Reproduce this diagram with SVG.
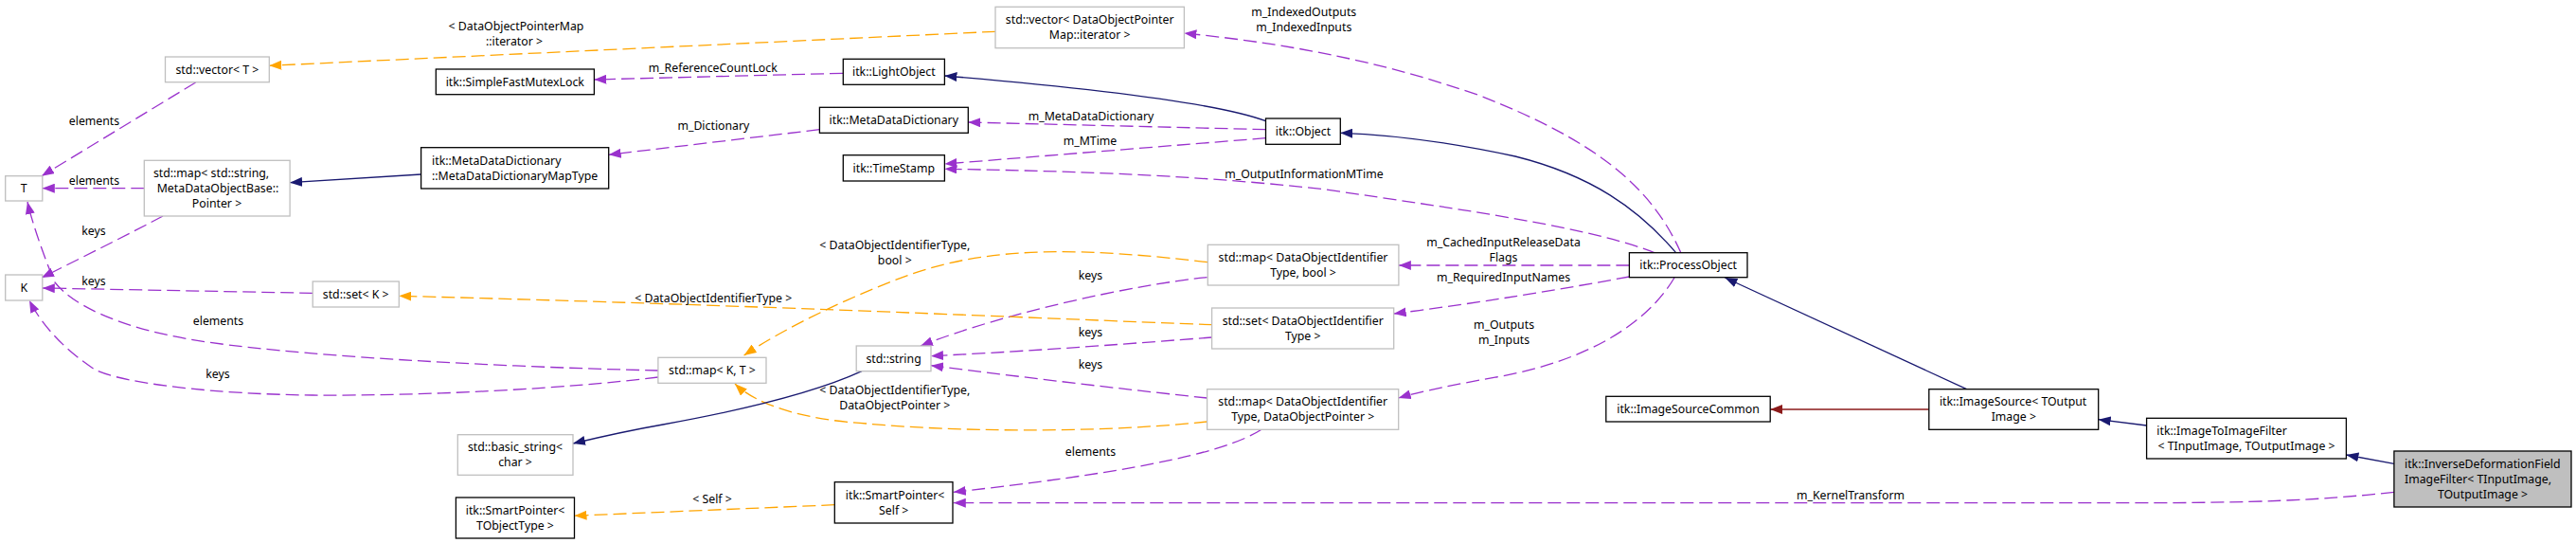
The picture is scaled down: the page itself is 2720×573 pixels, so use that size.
<svg xmlns="http://www.w3.org/2000/svg" width="2720" height="573" viewBox="0 0 2720 573">
<style>
text{font-family:"Noto Sans","DejaVu Sans",sans-serif;font-size:12.3px;fill:#000}
.c{text-anchor:middle}
.nb rect{fill:#fff;stroke:#000;stroke-width:1.3}
.ng rect{fill:#fff;stroke:#bfbfbf;stroke-width:1.3}
.nh rect{fill:#bfbfbf;stroke:#000;stroke-width:1.3}
.e{fill:none;stroke-width:1.3}
.u{stroke:#9a32cd;stroke-dasharray:14,6;marker-end:url(#mu)}
.t{stroke:#ffa500;stroke-dasharray:14,6;marker-end:url(#mt)}
.i{stroke:#191970;marker-end:url(#mi)}
.r{stroke:#8b1a1a;marker-end:url(#mr)}
</style>
<defs>
<marker id="mu" markerUnits="userSpaceOnUse" viewBox="0 0 13 10" markerWidth="13" markerHeight="10" refX="13" refY="5" orient="auto"><path d="M0,0L13,5L0,10z" fill="#9a32cd"/></marker>
<marker id="mt" markerUnits="userSpaceOnUse" viewBox="0 0 13 10" markerWidth="13" markerHeight="10" refX="13" refY="5" orient="auto"><path d="M0,0L13,5L0,10z" fill="#ffa500"/></marker>
<marker id="mi" markerUnits="userSpaceOnUse" viewBox="0 0 13 10" markerWidth="13" markerHeight="10" refX="13" refY="5" orient="auto"><path d="M0,0L13,5L0,10z" fill="#191970"/></marker>
<marker id="mr" markerUnits="userSpaceOnUse" viewBox="0 0 13 10" markerWidth="13" markerHeight="10" refX="13" refY="5" orient="auto"><path d="M0,0L13,5L0,10z" fill="#8b1a1a"/></marker>
</defs>
<rect width="2720" height="573" fill="#fff"/>
<g id="connectors">
<path class="e u" d="M890,77.3L627.4,84"/>
<path class="e u" d="M206.6,87L44,185.7"/>
<path class="e u" d="M152.3,198.7L44.8,198.7"/>
<path class="e u" d="M172,228C140,245 90,270 44,293"/>
<path class="e u" d="M330.2,309.3L44.8,304"/>
<path class="e u" d="M695,391C520,387 300,375 200,358C120,344 75,320 58,298C52,285 35,240 29,213"/>
<path class="e u" d="M695,398C600,410 450,418 330,417C230,416 130,405 100,390C70,370 45,345 31,317"/>
<path class="e u" d="M865.4,136.7L642.7,163.3"/>
<path class="e u" d="M1336.5,136.7L1022.3,129"/>
<path class="e u" d="M1336.5,145.7L997.4,173"/>
<path class="e u" d="M1748,267C1680,240 1550,222 1400,200C1250,183 1100,180 997.4,178.3"/>
<path class="e u" d="M1775,267C1745,200 1690,150 1560,100C1450,62 1350,45 1250.4,35"/>
<path class="e u" d="M1720.4,280L1476.9,280"/>
<path class="e u" d="M1720.4,292C1650,305 1560,320 1471.7,331"/>
<path class="e u" d="M1768,293C1740,340 1680,380 1580,398C1540,405 1500,413 1476.7,420"/>
<path class="e u" d="M1274.6,292.7C1200,300 1060,330 972,365"/>
<path class="e u" d="M1279.6,356C1200,362 1100,370 983,375.7"/>
<path class="e u" d="M1274.6,420C1180,410 1080,398 983,385.7"/>
<path class="e u" d="M1332,453.3C1290,480 1180,500 1006.8,519.3"/>
<path class="e u" d="M2527.9,519.3C2450,528 2380,530.7 2250,530.7L1006.8,530.7"/>
<path class="e t" d="M1051,33.3L284.3,69.3"/>
<path class="e t" d="M1279.6,342.7C1100,336 800,322 421.3,312.3"/>
<path class="e t" d="M1275.3,276.7C1150,262 1050,258 960,290C900,312 830,345 785.6,375"/>
<path class="e t" d="M1274.6,445C1150,458 1000,455 915,447C850,443 800,428 776,405"/>
<path class="e t" d="M881.3,532.7L606.5,544.3"/>
<path class="e i" d="M444.6,184L306.1,192.7"/>
<path class="e i" d="M1336.5,127.7C1300,114 1200,97 997.4,80"/>
<path class="e i" d="M1769.6,266.7C1730,220 1680,185 1600,165C1530,150 1470,142 1415.3,140.3"/>
<path class="e i" d="M910,391.7C870,410 800,430 700,448C660,455 630,462 605,468"/>
<path class="e i" d="M2076.6,410.7L1821.4,293"/>
<path class="e i" d="M2266.6,449L2215.7,442.7"/>
<path class="e i" d="M2527.9,489.3L2477.4,480"/>
<path class="e r" d="M2036.8,432L1869.2,432"/>
<text class="c" x="545" y="32">&lt; DataObjectPointerMap</text>
<text class="c" x="543" y="48">::iterator &gt;</text>
<text class="c" x="752.7" y="76">m_ReferenceCountLock</text>
<text class="c" x="99.5" y="132">elements</text>
<text class="c" x="99.5" y="195">elements</text>
<text class="c" x="99" y="248">keys</text>
<text class="c" x="99" y="300.6">keys</text>
<text class="c" x="230.5" y="343">elements</text>
<text class="c" x="230" y="399">keys</text>
<text class="c" x="753.4" y="137">m_Dictionary</text>
<text class="c" x="1152" y="127">m_MetaDataDictionary</text>
<text class="c" x="1151" y="152.6">m_MTime</text>
<text class="c" x="1376.8" y="17">m_IndexedOutputs</text>
<text class="c" x="1376.8" y="33">m_IndexedInputs</text>
<text class="c" x="1376.9" y="187.6">m_OutputInformationMTime</text>
<text class="c" x="944.8" y="263">&lt; DataObjectIdentifierType,</text>
<text class="c" x="944.8" y="278.6">bool &gt;</text>
<text class="c" x="1151.5" y="295">keys</text>
<text class="c" x="1587.5" y="260">m_CachedInputReleaseData</text>
<text class="c" x="1587.5" y="276">Flags</text>
<text class="c" x="1587.5" y="297">m_RequiredInputNames</text>
<text class="c" x="753.2" y="319">&lt; DataObjectIdentifierType &gt;</text>
<text class="c" x="1151.5" y="355">keys</text>
<text class="c" x="1151.5" y="389">keys</text>
<text class="c" x="1588" y="347">m_Outputs</text>
<text class="c" x="1588" y="363">m_Inputs</text>
<text class="c" x="944.8" y="416">&lt; DataObjectIdentifierType,</text>
<text class="c" x="944.8" y="431.6">DataObjectPointer &gt;</text>
<text class="c" x="1151.5" y="481">elements</text>
<text class="c" x="752" y="530.6">&lt; Self &gt;</text>
<text class="c" x="1954" y="527">m_KernelTransform</text>
</g>
<g id="n_vectorT" class="ng"><rect x="174.5" y="60" width="109.8" height="26.7"/><text class="c" x="229.4" y="77.7">std::vector&lt; T &gt;</text></g>
<g id="n_mutex" class="nb"><rect x="460.3" y="73" width="167.1" height="26.7"/><text class="c" x="543.8" y="90.7">itk::SimpleFastMutexLock</text></g>
<g id="n_T" class="ng"><rect x="5.7" y="185.7" width="39.1" height="26.3"/><text class="c" x="25.2" y="203.3">T</text></g>
<g id="n_mapStr" class="ng"><rect x="152.3" y="169.3" width="153.8" height="58.7"/><text class="c" x="223" y="187.1">std::map&lt; std::string,</text><text class="c" x="230" y="203.1">MetaDataObjectBase::</text><text class="c" x="229" y="219.1">Pointer &gt;</text></g>
<g id="n_mapType" class="nb"><rect x="444.6" y="155.7" width="198.1" height="43.3"/><text x="456.1" y="173.7">itk::MetaDataDictionary</text><text class="c" x="543.6" y="189.7">::MetaDataDictionaryMapType</text></g>
<g id="n_K" class="ng"><rect x="5.7" y="290" width="39.1" height="27"/><text class="c" x="25.2" y="307.9">K</text></g>
<g id="n_setK" class="ng"><rect x="330.2" y="297" width="91.1" height="27"/><text class="c" x="375.7" y="314.9">std::set&lt; K &gt;</text></g>
<g id="n_basicString" class="ng"><rect x="483.3" y="458.7" width="121.7" height="42.6"/><text class="c" x="544" y="476.4">std::basic_string&lt;</text><text class="c" x="544" y="492.4">char &gt;</text></g>
<g id="n_spTObj" class="nb"><rect x="481.4" y="525" width="125.1" height="43"/><text class="c" x="544" y="542.9">itk::SmartPointer&lt;</text><text class="c" x="544" y="558.9">TObjectType &gt;</text></g>
<g id="n_mapKT" class="ng"><rect x="694.9" y="377.3" width="114.1" height="27"/><text class="c" x="752" y="395.2">std::map&lt; K, T &gt;</text></g>
<g id="n_lightObject" class="nb"><rect x="890.3" y="62.3" width="107.1" height="27"/><text class="c" x="943.8" y="80.2">itk::LightObject</text></g>
<g id="n_mdd" class="nb"><rect x="865.4" y="113.3" width="156.9" height="27"/><text class="c" x="943.8" y="131.2">itk::MetaDataDictionary</text></g>
<g id="n_timeStamp" class="nb"><rect x="890.3" y="163.7" width="107.1" height="27.3"/><text class="c" x="943.8" y="181.7">itk::TimeStamp</text></g>
<g id="n_string" class="ng"><rect x="904.2" y="365" width="78.8" height="26.7"/><text class="c" x="943.6" y="382.7">std::string</text></g>
<g id="n_spSelf" class="nb"><rect x="881.3" y="508.7" width="124.7" height="43.3"/><text x="892.8" y="526.7">itk::SmartPointer&lt;</text><text class="c" x="943.7" y="542.7">Self &gt;</text></g>
<g id="n_vecDOPM" class="ng"><rect x="1051" y="7.3" width="199.4" height="43.4"/><text class="c" x="1150.7" y="25.4">std::vector&lt; DataObjectPointer</text><text class="c" x="1150.7" y="41.4">Map::iterator &gt;</text></g>
<g id="n_object" class="nb"><rect x="1336.5" y="125" width="78.8" height="27.3"/><text class="c" x="1375.9" y="143">itk::Object</text></g>
<g id="n_mapBool" class="ng"><rect x="1275.3" y="258.3" width="201.6" height="42.7"/><text class="c" x="1376" y="276.1">std::map&lt; DataObjectIdentifier</text><text class="c" x="1376" y="292.1">Type, bool &gt;</text></g>
<g id="n_setDOI" class="ng"><rect x="1279.6" y="325" width="192.1" height="43"/><text class="c" x="1375.7" y="342.9">std::set&lt; DataObjectIdentifier</text><text class="c" x="1375.7" y="358.9">Type &gt;</text></g>
<g id="n_mapDOP" class="ng"><rect x="1274.6" y="410.7" width="202.1" height="42.6"/><text class="c" x="1375.7" y="428.4">std::map&lt; DataObjectIdentifier</text><text class="c" x="1375.7" y="444.4">Type, DataObjectPointer &gt;</text></g>
<g id="n_processObject" class="nb"><rect x="1720.4" y="266.7" width="124.6" height="26"/><text class="c" x="1782.7" y="284.1">itk::ProcessObject</text></g>
<g id="n_imageSourceCommon" class="nb"><rect x="1695.8" y="418.3" width="173.4" height="26.7"/><text class="c" x="1782.5" y="436">itk::ImageSourceCommon</text></g>
<g id="n_imageSource" class="nb"><rect x="2036.8" y="410.7" width="178.9" height="42.6"/><text x="2047.9" y="428.4">itk::ImageSource&lt; TOutput</text><text class="c" x="2126.3" y="444.4">Image &gt;</text></g>
<g id="n_i2i" class="nb"><rect x="2266.6" y="441.3" width="210.8" height="42.7"/><text x="2277.3" y="459.1">itk::ImageToImageFilter</text><text class="c" x="2372" y="475.1">&lt; TInputImage, TOutputImage &gt;</text></g>
<g id="n_idf" class="nh"><rect x="2527.9" y="476" width="187.1" height="59"/><text x="2539" y="493.9">itk::InverseDeformationField</text><text x="2539" y="509.9">ImageFilter&lt; TInputImage,</text><text class="c" x="2621.5" y="525.9">TOutputImage &gt;</text></g>
</svg>
